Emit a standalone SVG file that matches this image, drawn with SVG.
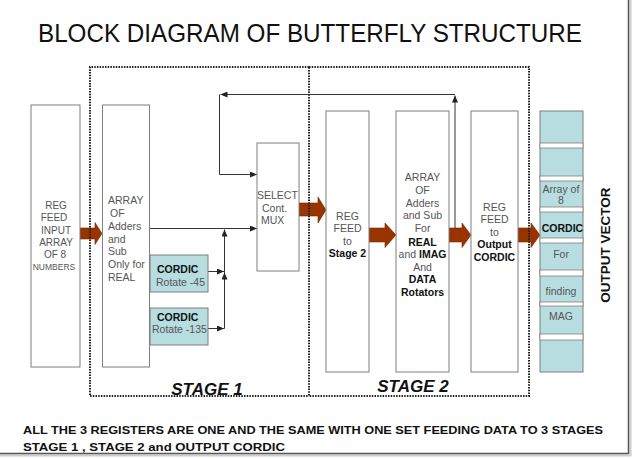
<svg xmlns="http://www.w3.org/2000/svg" width="632" height="459" viewBox="0 0 632 459">
<style>
.box{fill:#fff;stroke:#7f7f7f;stroke-width:1}
.cyan{fill:#b7dde0;stroke:#7f7f7f;stroke-width:1}
.strip{fill:#fff;stroke:#7f7f7f;stroke-width:0.8}
.dot{fill:none;stroke:#222;stroke-width:2;stroke-dasharray:1.5 1.2}
.ln{fill:none;stroke:#333;stroke-width:1;marker-end:url(#ah)}
.bar{fill:#993300;stroke:#7a2600;stroke-width:0.6}
text{font-family:"Liberation Sans",Arial,sans-serif}
.t{font-size:10.5px;fill:#555}
.tb{font-size:10.5px;fill:#111;font-weight:bold}
.c{text-anchor:middle}
.stage{font-size:17px;font-weight:bold;font-style:italic;fill:#111;text-anchor:middle}
.note{font-size:11.5px;font-weight:bold;fill:#111}
</style>
<defs>
<marker id="ah" markerWidth="7" markerHeight="6" refX="7" refY="3" orient="auto" markerUnits="userSpaceOnUse">
<path d="M0,0 L7,3 L0,6 z" fill="#222"/>
</marker>
</defs>
<rect width="632" height="459" fill="#fff"/>
<g id="border">
<line x1="0" y1="455.5" x2="631" y2="455.5" stroke="#ccc" stroke-width="2"/>
<line x1="630.5" y1="0" x2="630.5" y2="456" stroke="#ccc" stroke-width="2"/>
<line x1="0" y1="453.5" x2="628.5" y2="453.5" stroke="#555" stroke-width="1.5"/>
<line x1="628.5" y1="0" x2="628.5" y2="454" stroke="#555" stroke-width="1.5"/>
</g>
<text id="title" x="310" y="42" font-size="26" text-anchor="middle" textLength="544" lengthAdjust="spacingAndGlyphs" fill="#111">BLOCK DIAGRAM OF BUTTERFLY STRUCTURE</text>

<g id="connectors">
<polygon class="bar" points="80,228 95,228 95,222.5 102,233.5 95,244.5 95,239 80,239"/>
<polygon class="bar" points="299,203 318,203 318,197 326,210 318,223 318,216 299,216"/>
<polygon class="bar" points="369,228 385,228 385,223 396,235 385,247.5 385,242 369,242"/>
<polygon class="bar" points="449,228 462,228 462,223 471,235 462,247.5 462,242 449,242"/>
<polygon class="bar" points="518,228 531,228 531,223 540,235 531,247.5 531,242 518,242"/>
<line class="ln" x1="455" y1="228" x2="455" y2="95.5"/>
<line class="ln" x1="455" y1="94.5" x2="220.5" y2="94.5"/>
<polyline class="ln" points="219.5,94.5 219.5,174.5 257,174.5"/>
<line class="ln" x1="149" y1="228.5" x2="257" y2="228.5"/>
<line class="ln" x1="224.5" y1="328.5" x2="224.5" y2="229.5"/>
<line class="ln" x1="224.5" y1="328.5" x2="224.5" y2="272.5"/>
<line class="ln" x1="208" y1="271.5" x2="224" y2="271.5"/>
<line class="ln" x1="208" y1="328.5" x2="224" y2="328.5"/>
</g>

<g id="stage1">
<path class="dot" d="M309,67 H90 V396 H309"/>
<text class="stage" x="207" y="395">STAGE 1</text>
</g>
<g id="stage2">
<path class="dot" d="M309,67 H529 V396 H309 Z"/>
<text class="stage" x="413" y="392">STAGE 2</text>
</g>

<g id="reg-input">
<rect class="box" x="31" y="105" width="49" height="262"/>
<text class="t c" style="font-size:10px" x="56" y="209">REG</text>
<text class="t c" style="font-size:10px" x="54" y="221">FEED</text>
<text class="t c" style="font-size:10px" x="56" y="234">INPUT</text>
<text class="t c" style="font-size:10px" x="56" y="246">ARRAY</text>
<text class="t c" style="font-size:10px" x="55" y="258">OF  8</text>
<text class="t c" style="font-size:8.5px" x="54" y="270">NUMBERS</text>
</g>

<g id="array-stage1">
<rect class="box" x="102.5" y="105" width="47" height="262"/>
<text class="t" x="108" y="204">ARRAY</text>
<text class="t" x="110" y="217">OF</text>
<text class="t" x="108" y="230">Adders</text>
<text class="t" x="108" y="243">and</text>
<text class="t" x="108" y="255">Sub</text>
<text class="t" x="108" y="268">Only for</text>
<text class="t" x="108" y="281">REAL</text>
</g>

<g id="cordic45">
<rect class="cyan" x="150" y="255" width="58" height="37"/>
<text class="tb" x="157" y="273">CORDIC</text>
<text class="t" x="156" y="286">Rotate -45</text>
</g>
<g id="cordic135">
<rect class="cyan" x="150" y="308" width="58" height="37"/>
<text class="tb" x="157" y="321">CORDIC</text>
<text class="t" x="152" y="333">Rotate -135</text>
</g>

<g id="mux">
<rect class="box" x="257" y="143" width="42" height="128"/>
<text class="t" x="257" y="199">SELECT</text>
<text class="t" x="262" y="212">Cont.</text>
<text class="t" x="261" y="224">MUX</text>
</g>

<g id="reg-stage2">
<rect class="box" x="326" y="111" width="43" height="261"/>
<text class="t c" x="347.5" y="220">REG</text>
<text class="t c" x="347.5" y="232">FEED</text>
<text class="t c" x="347.5" y="245">to</text>
<text class="tb c" x="347.5" y="257">Stage 2</text>
</g>

<g id="array-stage2">
<rect class="box" x="396" y="111" width="53" height="261"/>
<text class="t c" x="422.5" y="181">ARRAY</text>
<text class="t c" x="422.5" y="194">OF</text>
<text class="t c" x="422.5" y="207">Adders</text>
<text class="t c" x="422.5" y="219">and Sub</text>
<text class="t c" x="422.5" y="232">For</text>
<text class="tb c" x="422.5" y="246">REAL</text>
<text class="c" x="422.5" y="258" style="font-size:10.5px"><tspan fill="#555">and </tspan><tspan fill="#111" font-weight="bold">IMAG</tspan></text>
<text class="t c" x="422.5" y="271">And</text>
<text class="tb c" x="422.5" y="283">DATA</text>
<text class="tb c" x="422.5" y="296">Rotators</text>
</g>

<g id="reg-output">
<rect class="box" x="471" y="111" width="47" height="261"/>
<text class="t c" x="494.5" y="211">REG</text>
<text class="t c" x="494.5" y="223">FEED</text>
<text class="t c" x="494.5" y="236">to</text>
<text class="tb c" x="494.5" y="248">Output</text>
<text class="tb c" x="494.5" y="261">CORDIC</text>
</g>

<g id="output-vector">
<rect class="cyan" x="540" y="111" width="43" height="261"/>
<rect class="strip" x="540" y="143" width="43" height="5"/>
<rect class="strip" x="540" y="176" width="43" height="5"/>
<rect class="strip" x="540" y="207" width="43" height="5"/>
<rect class="strip" x="540" y="238" width="43" height="5"/>
<rect class="strip" x="540" y="270" width="43" height="6"/>
<rect class="strip" x="540" y="302" width="43" height="4"/>
<rect class="strip" x="540" y="334" width="43" height="6"/>
<text class="t c" x="561" y="193">Array of</text>
<text class="t c" x="561" y="204">8</text>
<text class="tb c" x="562.5" y="232">CORDIC</text>
<text class="t c" x="561" y="258">For</text>
<text class="t c" x="561" y="295">finding</text>
<text class="t c" x="561" y="320">MAG</text>
<text x="610" y="245" transform="rotate(-90 610 245)" text-anchor="middle" font-size="13.5" font-weight="bold" fill="#111">OUTPUT VECTOR</text>
</g>

<text class="note" x="23" y="434" textLength="580" lengthAdjust="spacingAndGlyphs">ALL THE 3 REGISTERS ARE ONE AND THE SAME WITH ONE SET FEEDING DATA TO 3 STAGES</text>
<text class="note" x="23" y="451" textLength="262" lengthAdjust="spacingAndGlyphs">STAGE 1  ,  STAGE 2 and OUTPUT CORDIC</text>
</svg>
